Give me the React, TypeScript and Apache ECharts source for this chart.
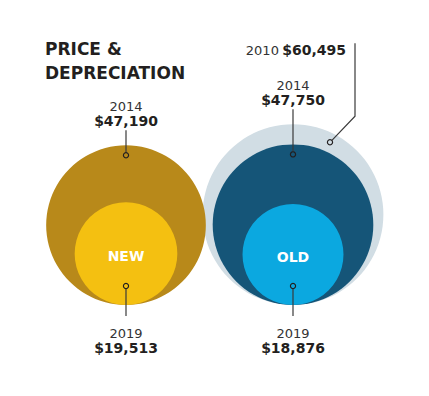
import React, { useEffect, useRef } from 'react';
import * as echarts from 'echarts';

// ---- data ----
const categories = ['NEW', 'OLD'];
const years = ['2010', '2014', '2019'];
const newPrices: (number | null)[] = [null, 47190, 19513];
const oldPrices: (number | null)[] = [60495, 47750, 18876];
const titleLines = ['PRICE &', 'DEPRECIATION'];

// ---- styles ----
const newColors = ['#B8891A', '#B8891A', '#F4C011'];
const oldColors = ['#D1DDE4', '#155578', '#0BA8E0'];
const K = 0.3675; // px of radius per sqrt(dollar)
const INK = '#231f20';
const BOLD_FONT = '"DejaVu Sans", sans-serif';

const priceSets = [newPrices, oldPrices];
const colorSets = [newColors, oldColors];

const fmt = (v: number) => '$' + v.toLocaleString('en-US');

type Item = { value: number[] };
const items: Item[] = [];
priceSets.forEach((prices, ci) => {
  prices.forEach((p, yi) => {
    if (p != null) items.push({ value: [ci, 0, p, yi] });
  });
});
items.sort((a, b) => b.value[2] - a.value[2]);

const maxOf = (ci: number) => Math.max(...(priceSets[ci].filter((p) => p != null) as number[]));

export default function App() {
  const ref = useRef<HTMLDivElement>(null);
  useEffect(() => {
    if (!ref.current) return;
    const chart = echarts.init(ref.current, null, { renderer: 'svg' });

    const dot = (x: number, y: number) => ({
      type: 'circle',
      shape: { cx: x, cy: y, r: 2.6 },
      style: { fill: 'none', stroke: INK, lineWidth: 1.2 },
    });
    const seg = (pts: number[][]) => ({
      type: 'polyline',
      shape: { points: pts },
      style: { fill: 'none', stroke: '#3a3a3a', lineWidth: 1.2 },
    });
    const yearText = (x: number, y: number, t: string) => ({
      type: 'text',
      x,
      y,
      style: {
        text: t,
        fill: '#333333',
        font: `normal 13px ${BOLD_FONT}`,
        align: 'center',
        verticalAlign: 'middle',
      },
    });
    const valText = (x: number, y: number, t: string) => ({
      type: 'text',
      x,
      y,
      style: {
        text: t,
        fill: INK,
        font: `bold 14px ${BOLD_FONT}`,
        align: 'center',
        verticalAlign: 'middle',
      },
    });

    const option: any = {
      animation: false,
      grid: { left: 42.5, right: 52.5, top: 100, bottom: 91 },
      xAxis: { type: 'category', data: categories, show: false },
      yAxis: { type: 'value', min: 0, max: 1, show: false },
      title: {
        text: titleLines.join('\n'),
        left: 45,
        top: 37,
        padding: 0,
        textStyle: {
          fontFamily: '"DejaVu Sans", sans-serif',
          fontWeight: 'bold',
          fontSize: 17,
          lineHeight: 24,
          color: INK,
        },
      },
      series: [
        {
          type: 'custom',
          coordinateSystem: 'cartesian2d',
          encode: { x: 0, y: 1 },
          clip: false,
          data: items,
          renderItem: (params: any, api: any) => {
            const ci = api.value(0);
            const base = api.coord([ci, api.value(1)]);
            const r = K * Math.sqrt(api.value(2));
            const yi = api.value(3);
            return {
              type: 'circle',
              shape: { cx: base[0], cy: base[1] - r, r },
              style: { fill: colorSets[ci][yi] },
            };
          },
        },
        {
          type: 'custom',
          coordinateSystem: 'cartesian2d',
          encode: { x: 0, y: 1 },
          clip: false,
          z: 5,
          data: items,
          renderItem: (params: any, api: any) => {
            const ci = api.value(0);
            const base = api.coord([ci, api.value(1)]);
            const price = api.value(2);
            const r = K * Math.sqrt(price);
            const yi = api.value(3);
            const cx = base[0];
            const by = base[1];
            const top = by - 2 * r;
            const outerTop = by - 2 * K * Math.sqrt(maxOf(ci));
            const children: any[] = [];
            if (yi === 1) {
              const dy = top + 10;
              const vy = outerTop - 24;
              children.push(seg([[cx, vy + 9], [cx, dy - 2.6]]));
              children.push(dot(cx, dy));
              children.push(yearText(cx, vy - 15, years[yi]));
              children.push(valText(cx, vy, fmt(price)));
            } else if (yi === 2) {
              const dy = by - 19;
              children.push(seg([[cx, dy + 2.6], [cx, by + 11]]));
              children.push(dot(cx, dy));
              children.push(yearText(cx, by + 28, years[yi]));
              children.push(valText(cx, by + 43, fmt(price)));
              children.push({
                type: 'text',
                x: cx,
                y: by - r + 2,
                style: {
                  text: categories[ci],
                  fill: '#ffffff',
                  font: `bold 14px ${BOLD_FONT}`,
                  align: 'center',
                  verticalAlign: 'middle',
                },
              });
            } else {
              const dx = cx + 37;
              const dy = top + 18;
              const ex = cx + 62;
              const ey = top - 8;
              const ty = top - 74;
              children.push(seg([[dx + 1.9, dy - 1.9], [ex, ey], [ex, ty - 7]]));
              children.push(dot(dx, dy));
              children.push({
                type: 'text',
                x: cx + 53,
                y: ty,
                style: {
                  text: `{y|${years[yi]}} {v|${fmt(price)}}`,
                  align: 'right',
                  verticalAlign: 'middle',
                  rich: {
                    y: { fill: '#333333', font: `normal 13px ${BOLD_FONT}` },
                    v: { fill: INK, font: `bold 14px ${BOLD_FONT}` },
                  },
                },
              });
            }
            return { type: 'group', children };
          },
        },
      ],
    };
    chart.setOption(option);
    return () => chart.dispose();
  }, []);
  return (
    <div
      ref={ref}
      style={{ position: 'fixed', left: 0, top: 0, width: 429, height: 396, background: '#ffffff' }}
    />
  );
}
